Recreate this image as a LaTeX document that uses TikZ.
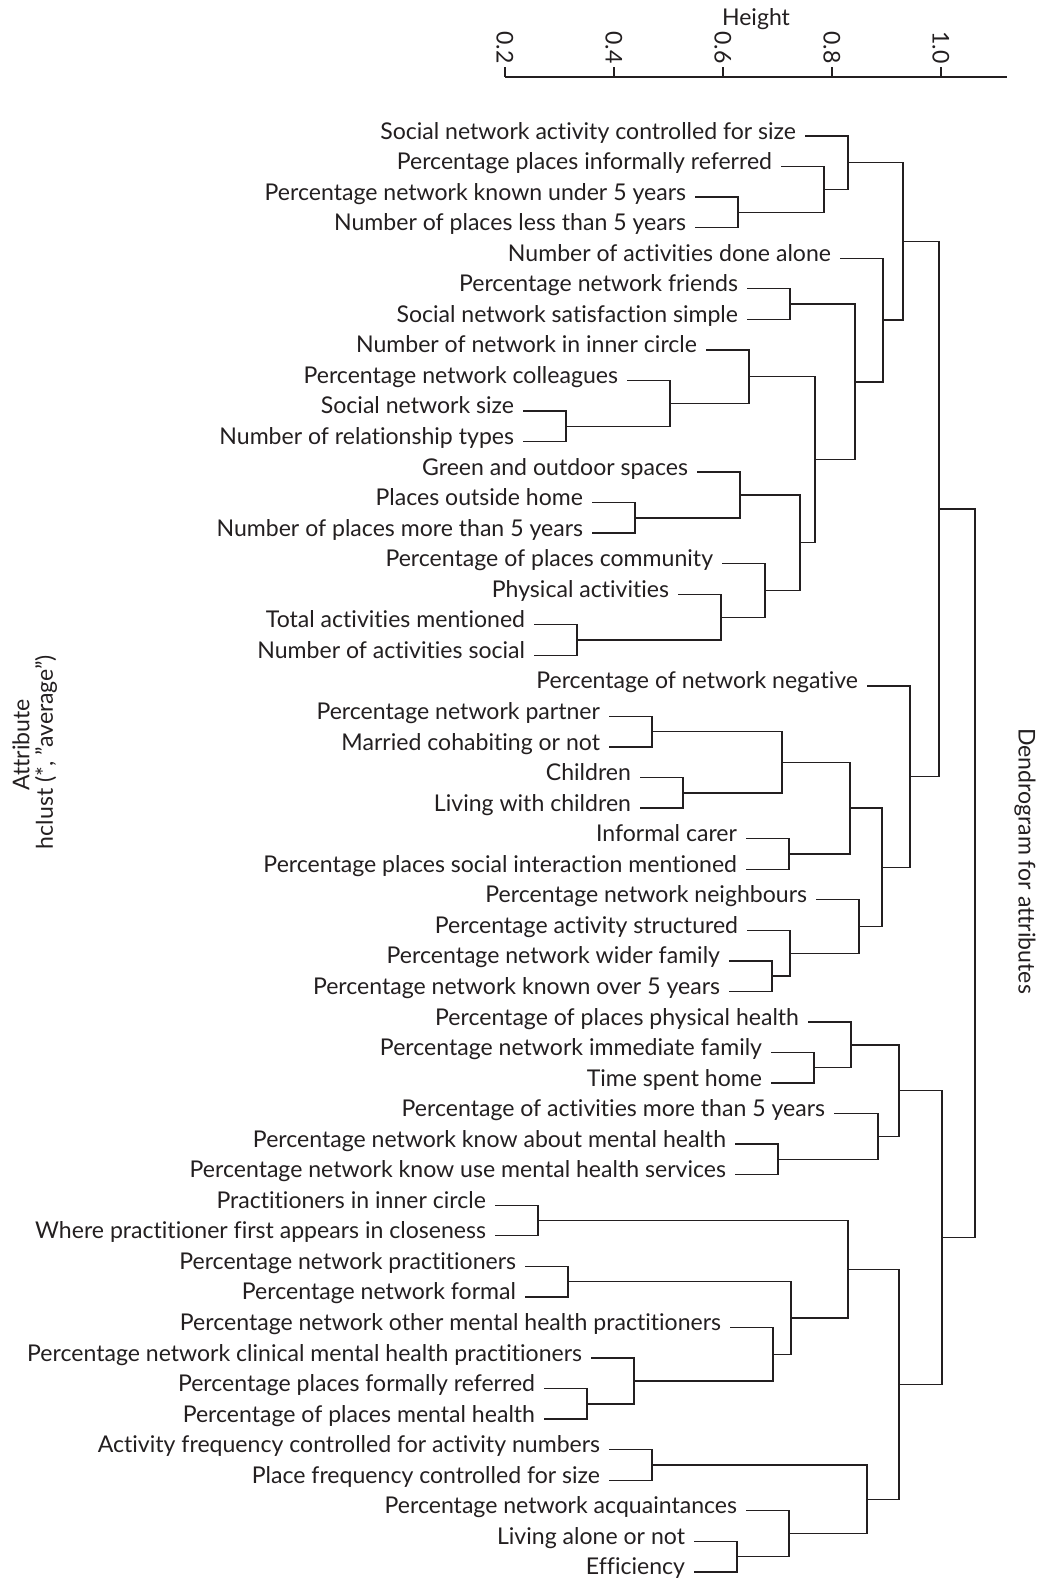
\documentclass[tikz,border=0pt]{standalone}
\usepackage{fontspec}
\setmainfont{Lato}[Ligatures=CommonOff]
\usetikzlibrary{calc}
\definecolor{cink}{HTML}{231F20}

% join two children (upper, lower) at height x
\newcommand\mergeat[4]{%
  \path let \p1=($(#3)!.5!(#4)$), \p2=(#2,0) in coordinate (#1) at (\x2,\y1);
  \draw[link] (#3) -| (#1) |- (#4);}

\begin{document}
\begin{tikzpicture}[x=0.75pt,y=-0.75pt,
  font=\fontsize{17.3}{19}\selectfont,
  leaf/.style={anchor=east,inner xsep=6.75pt,inner ysep=0pt,outer sep=0pt,text height=0.9ex,text depth=0pt,text=cink},
  link/.style={line width=1pt,cink},
  tick/.style={rotate=-90,anchor=east,inner sep=0pt,text=cink}]
  \useasboundingbox (0,0) rectangle (1036,1584);

  % leaves: row / height of parent / label
  \foreach \i/\m/\t in {
    1/848/Social network activity controlled for size,
    2/824/Percentage places informally referred,
    3/738/Percentage network known under 5 years,
    4/738/Number of places less than 5 years,
    5/883/Number of activities done alone,
    6/790/Percentage network friends,
    7/790/Social network satisfaction simple,
    8/749/Number of network in inner circle,
    9/670/Percentage network colleagues,
    10/566/Social network size,
    11/566/Number of relationship types,
    12/740/Green and outdoor spaces,
    13/635/Places outside home,
    14/635/Number of places more than 5 years,
    15/765/Percentage of places community,
    16/721/Physical activities,
    17/577/Total activities mentioned,
    18/577/Number of activities social,
    19/910/Percentage of network negative,
    20/652/Percentage network partner,
    21/652/Married cohabiting or not,
    22/683/Children,
    23/683/Living with children,
    24/789/Informal carer,
    25/789/Percentage places social interaction mentioned,
    26/859/Percentage network neighbours,
    27/790/Percentage activity structured,
    28/772/Percentage network wider family,
    29/772/Percentage network known over 5 years,
    30/851/Percentage of places physical health,
    31/814/Percentage network immediate family,
    32/814/Time spent home,
    33/877/Percentage of activities more than 5 years,
    34/778/Percentage network know about mental health\hspace{10pt},
    35/778/Percentage network know use mental health services,
    36/538/Practitioners in inner circle,
    37/538/Where practitioner first appears in closeness,
    38/568/Percentage network practitioners,
    39/568/Percentage network formal,
    40/773/Percentage network other mental health practitioners,
    41/634/Percentage network clinical mental health practitioners,
    42/587/Percentage places formally referred,
    43/587/Percentage of places mental health,
    44/652/Activity frequency controlled for activity numbers,
    45/652/Place frequency controlled for size,
    46/789/Percentage network acquaintances,
    47/737/Living alone or not,
    48/737/Efficiency}
    \node[leaf] (t\i) at ({\m-43},{136+(\i-1)*30.55}) {\t};

  % first block
  \mergeat{m34}{738}{t3}{t4}
  \mergeat{m2}{824}{t2}{m34}
  \mergeat{m1}{848}{t1}{m2}
  \mergeat{m67}{790}{t6}{t7}
  \mergeat{m1011}{566}{t10}{t11}
  \mergeat{m9}{670}{t9}{m1011}
  \mergeat{m8}{749}{t8}{m9}
  \mergeat{m1314}{635}{t13}{t14}
  \mergeat{m12}{740}{t12}{m1314}
  \mergeat{m1718}{577}{t17}{t18}
  \mergeat{m16}{721}{t16}{m1718}
  \mergeat{m15}{765}{t15}{m16}
  \mergeat{m12to18}{800}{m12}{m15}
  \mergeat{m8to18}{815}{m8}{m12to18}
  \mergeat{m6to18}{855}{m67}{m8to18}
  \mergeat{m5}{883}{t5}{m6to18}
  \mergeat{m1to18}{903}{m1}{m5}
  % second block
  \mergeat{m2021}{652}{t20}{t21}
  \mergeat{m2223}{683}{t22}{t23}
  \mergeat{m20to23}{782}{m2021}{m2223}
  \mergeat{m2425}{789}{t24}{t25}
  \mergeat{m20to25}{850}{m20to23}{m2425}
  \mergeat{m2829}{772}{t28}{t29}
  \mergeat{m27}{790}{t27}{m2829}
  \mergeat{m26}{859}{t26}{m27}
  \mergeat{m20to29}{882}{m20to25}{m26}
  \mergeat{m19}{910}{t19}{m20to29}
  \mergeat{m1to29}{939}{m1to18}{m19}
  % third block
  \mergeat{m3132}{814}{t31}{t32}
  \mergeat{m30}{851}{t30}{m3132}
  \mergeat{m3435}{778}{t34}{t35}
  \mergeat{m33}{878}{t33}{m3435}
  \mergeat{m30to35}{899}{m30}{m33}
  \mergeat{m3637}{538}{t36}{t37}
  \mergeat{m3839}{568}{t38}{t39}
  \mergeat{m4243}{587}{t42}{t43}
  \mergeat{m41}{634}{t41}{m4243}
  \mergeat{m40}{773}{t40}{m41}
  \mergeat{m38to43}{791}{m3839}{m40}
  \mergeat{m36to43}{848}{m3637}{m38to43}
  \mergeat{m4445}{652}{t44}{t45}
  \mergeat{m4748}{737}{t47}{t48}
  \mergeat{m46}{789}{t46}{m4748}
  \mergeat{m44to48}{867}{m4445}{m46}
  \mergeat{m36to48}{899}{m36to43}{m44to48}
  \mergeat{m30to48}{942}{m30to35}{m36to48}
  \mergeat{root}{975}{m1to29}{m30to48}

  % height axis
  \coordinate (ax0) at (505,77);
  \coordinate (ax1) at (1007,77);
  \draw[link] (ax0) -- (ax1);
  \foreach \h/\x in {0.2/505,0.4/614,0.6/723,0.8/832,1.0/941}{
    \draw[link] (\x,77) -- (\x,67.5);
    \node[tick] (k\x) at (\x,64) {\h};}
  \node[text=cink] (ytitle) at (756,19) {Height};

  % side titles
  \node[rotate=90,text=cink] (xlab) at (21,745) {Attribute};
  \node[rotate=90,text=cink] (sublab) at (46,752) {hclust (*, ”average”)};
  \node[rotate=-90,text=cink] (main) at (1025,861) {Dendrogram for attributes};
\end{tikzpicture}
\end{document}
